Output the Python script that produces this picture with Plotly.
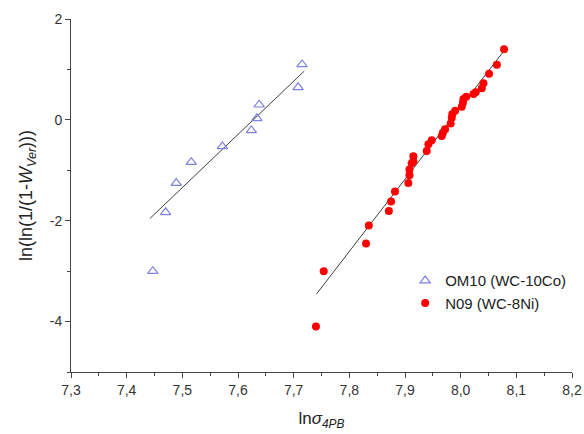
import plotly.graph_objects as go

# OM10 (WC-10Co) data
om10_x = [7.715, 7.708, 7.638, 7.634, 7.624, 7.572, 7.516, 7.489, 7.470, 7.447]
om10_y = [1.10, 0.646, 0.30, 0.03, -0.21, -0.526, -0.84, -1.254, -1.834, -3.00]
om10_fit_x = [7.442, 7.719]
om10_fit_y = [-1.954, 0.966]

# N09 (WC-8Ni) data
n09_x = [8.078, 8.065, 8.051, 8.041, 8.038, 8.027, 8.023, 8.010, 8.005, 8.004, 8.002,
         7.990, 7.985, 7.984, 7.982, 7.972, 7.968, 7.966, 7.948, 7.942, 7.939,
         7.915, 7.915, 7.912, 7.908, 7.908, 7.906, 7.882, 7.875, 7.871,
         7.835, 7.830, 7.754, 7.740]
n09_y = [1.40, 1.094, 0.914, 0.726, 0.626, 0.546, 0.514, 0.46, 0.414, 0.34, 0.26,
         0.18, 0.114, 0.04, -0.074, -0.186, -0.254, -0.32, -0.406, -0.486, -0.62,
         -0.72, -0.82, -0.86, -0.986, -1.10, -1.254, -1.42, -1.62, -1.806,
         -2.094, -2.454, -3.00, -4.10]
n09_fit_x = [7.741, 8.080]
n09_fit_y = [-3.454, 1.40]

x_ticks = [7.3, 7.4, 7.5, 7.6, 7.7, 7.8, 7.9, 8.0, 8.1, 8.2]
x_ticktext = ["7,3", "7,4", "7,5", "7,6", "7,7", "7,8", "7,9", "8,0", "8,1", "8,2"]
y_ticks = [-4, -2, 0, 2]
y_ticktext = ["-4", "-2", "0", "2"]

fig = go.Figure()
fig.add_trace(go.Scatter(x=om10_fit_x, y=om10_fit_y, mode="lines",
                         line=dict(color="#404040", width=1), showlegend=False, hoverinfo="skip"))
fig.add_trace(go.Scatter(x=n09_fit_x, y=n09_fit_y, mode="lines",
                         line=dict(color="#404040", width=1), showlegend=False, hoverinfo="skip"))
fig.add_trace(go.Scatter(x=om10_x, y=om10_y, mode="markers", name="OM10 (WC-10Co)",
                         marker=dict(symbol="triangle-up-open", size=9, color="#8080e0",
                                     line=dict(width=1.2, color="#8080e0"))))
fig.add_trace(go.Scatter(x=n09_x, y=n09_y, mode="markers", name="N09 (WC-8Ni)",
                         marker=dict(symbol="circle", size=8, color="#ff0000",
                                     line=dict(width=0))))

axis_common = dict(showline=True, linecolor="#444444", linewidth=1, ticks="outside",
                   ticklen=5, tickcolor="#444444", showgrid=False, zeroline=False,
                   automargin=False, tickfont=dict(size=14, color="#333333"))

fig.update_layout(
    width=584, height=434,
    margin=dict(l=71, r=12, t=19, b=62),
    paper_bgcolor="white", plot_bgcolor="white",
    font=dict(family="Liberation Sans, Arial, sans-serif", color="#222222"),
    xaxis=dict(range=[7.3, 8.2], tickvals=x_ticks, ticktext=x_ticktext,
               minor=dict(ticks="outside", ticklen=3, dtick=0.05, tick0=7.3, tickcolor="#444444"),
               title=dict(text="ln<i>σ</i><sub><i>4PB</i></sub>", font=dict(size=17), standoff=15),
               **axis_common),
    yaxis=dict(range=[-5, 2], tickvals=y_ticks, ticktext=y_ticktext,
               minor=dict(ticks="outside", ticklen=3, dtick=1, tick0=0, tickcolor="#444444"),
               title=dict(text="ln(ln(1/(1-<i>W</i><sub><i>Ver</i></sub>)))", font=dict(size=18), standoff=12),
               **axis_common),
    legend=dict(x=0.667, y=0.305, xanchor="left", yanchor="top",
                bgcolor="rgba(0,0,0,0)", font=dict(size=15, color="#222222"),
                borderwidth=0, tracegroupgap=0),
    showlegend=True,
)

fig.write_html("out.html")
